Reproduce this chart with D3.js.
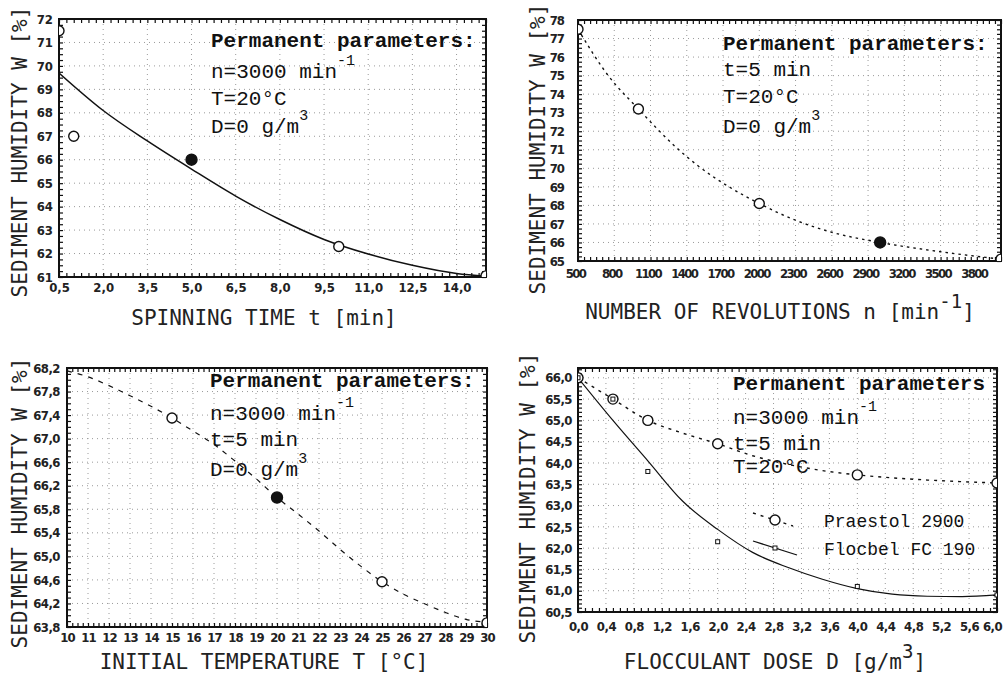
<!DOCTYPE html>
<html><head><meta charset="utf-8">
<script src="https://cdn.jsdelivr.net/npm/d3@7"></script>
<style>
html,body{margin:0;padding:0;background:#fff;}
svg{display:block;}
.tl text{font-family:'Liberation Sans Narrow','DejaVu Sans Condensed','DejaVu Sans',sans-serif;font-weight:bold;font-size:13px;fill:#222;}
.title{font-family:'DejaVu Sans Mono',monospace;font-size:21px;fill:#222;}
.perm{font-family:'Liberation Mono','Courier New',monospace;font-size:21px;fill:#111;}
.permb{font-weight:bold;}
.leg{font-family:'Liberation Mono','Courier New',monospace;font-size:18px;fill:#111;}
</style></head><body>
<svg id="c" width="1003" height="676"></svg>
<script>
// ---------- DATA ----------
// Panel 1: spinning time
const spinXTicks = [0.5,2,3.5,5,6.5,8,9.5,11,12.5,14];
const spinYTicks = [61,62,63,64,65,66,67,68,69,70,71,72];
const spinOpenT = [0.5,1,10,15];
const spinOpenW = [71.5,67.0,62.3,61.05];
const spinRefT = [5];
const spinRefW = [66.0];
const spinCurveT = [0.5,2,3.5,5,6.5,8,9.5,11,12.5,14,15];
const spinCurveW = [69.7,68.1,66.8,65.6,64.45,63.45,62.6,61.98,61.5,61.15,61.03];

// Panel 2: number of revolutions
const revXTicks = [500,800,1100,1400,1700,2000,2300,2600,2900,3200,3500,3800];
const revYTicks = [65,66,67,68,69,70,71,72,73,74,75,76,77,78];
const revOpenN = [500,1000,2000,4000];
const revOpenW = [77.5,73.2,68.1,65.1];
const revRefN = [3000];
const revRefW = [66.0];
const revCurveN = [500,750,1000,1300,1500,1750,2000,2300,2600,3000,3500,4000];
const revCurveW = [77.5,75.0,73.2,71.2,70.1,69.0,68.1,67.2,66.55,66.0,65.5,65.1];

// Panel 3: initial temperature
const tempXTicks = [10,11,12,13,14,15,16,17,18,19,20,21,22,23,24,25,26,27,28,29,30];
const tempYTicks = [63.8,64.2,64.6,65.0,65.4,65.8,66.2,66.6,67.0,67.4,67.8,68.2];
const tempOpenT = [15,25,30];
const tempOpenW = [67.35,64.57,63.87];
const tempRefT = [20];
const tempRefW = [66.0];
const tempCurveT = [10,11,12,13,14,15,16,17,18,19,20,21,22,23,24,25,26,27,28,29,30];
const tempCurveW = [68.15,68.05,67.9,67.73,67.55,67.35,67.13,66.9,66.62,66.32,66.0,65.72,65.43,65.12,64.83,64.57,64.36,64.2,64.05,63.93,63.88];

// Panel 4: flocculant dose
const doseXTicks = [0,0.4,0.8,1.2,1.6,2.0,2.4,2.8,3.2,3.6,4.0,4.4,4.8,5.2,5.6,6.0];
const doseYTicks = [60.5,61.0,61.5,62.0,62.5,63.0,63.5,64.0,64.5,65.0,65.5,66.0];
const praestolD = [0,0.5,1,2,4,6];
const praestolW = [66.0,65.5,65.0,64.45,63.72,63.53];
const praestolCurveD = [0,0.5,1,1.5,2,2.5,3,3.5,4,4.5,5,5.5,6];
const praestolCurveW = [66.0,65.5,65.0,64.7,64.45,64.17,63.97,63.82,63.72,63.65,63.6,63.56,63.53];
const flocbelD = [0,0.5,1,2,4,6];
const flocbelW = [66.0,65.5,63.8,62.15,61.1,60.9];
const flocbelCurveD = [0,0.5,1,1.5,2,2.5,3,3.5,4,4.5,5,5.5,6];
const flocbelCurveW = [66.0,65.0,64.05,63.1,62.44,61.9,61.55,61.27,61.05,60.92,60.87,60.86,60.9];
const seriesNames = ["Praestol 2900","Flocbel FC 190"];

// ---------- DRAW ----------
const svg = d3.select("#c");
const zip = (a,b)=>a.map((v,i)=>[v,b[i]]);
const comma1 = d => d3.format(".1f")(d).replace(".", ",");
const intf = d3.format("d");
let clipId = 0;

function panel(cfg){
  const x = d3.scaleLinear().domain(cfg.xDomain).range([cfg.left,cfg.right]);
  const y = d3.scaleLinear().domain(cfg.yDomain).range([cfg.bottom,cfg.top]);
  const g = svg.append("g");
  const id = "clip"+(clipId++);
  g.append("clipPath").attr("id",id).append("rect")
    .attr("x",cfg.left).attr("y",cfg.top).attr("width",cfg.right-cfg.left).attr("height",cfg.bottom-cfg.top);
  // grid
  g.append("g").selectAll("line").data(cfg.xTicks).join("line")
    .attr("x1",d=>x(d)).attr("x2",d=>x(d)).attr("y1",cfg.top).attr("y2",cfg.bottom)
    .attr("stroke","#9a9a9a").attr("stroke-width",1).attr("stroke-dasharray","1,4");
  g.append("g").selectAll("line").data(cfg.yTicks).join("line")
    .attr("y1",d=>y(d)).attr("y2",d=>y(d)).attr("x1",cfg.left).attr("x2",cfg.right)
    .attr("stroke","#9a9a9a").attr("stroke-width",1).attr("stroke-dasharray","1,4");
  // minor ticks
  const xm = d3.range(cfg.xDomain[0], cfg.xDomain[1]+1e-9, cfg.xMinor);
  const ym = d3.range(cfg.yDomain[0], cfg.yDomain[1]+1e-9, cfg.yMinor);
  const mk = (axis, tr) => { const a = g.append("g").attr("transform",tr).call(axis);
    a.select(".domain").remove(); a.selectAll("text").remove(); a.selectAll("line").attr("stroke","#111").attr("stroke-width",1.2); };
  mk(d3.axisBottom(x).tickValues(xm).tickSize(-4), `translate(0,${cfg.bottom})`);
  mk(d3.axisTop(x).tickValues(xm).tickSize(-4), `translate(0,${cfg.top})`);
  mk(d3.axisLeft(y).tickValues(ym).tickSize(-4), `translate(${cfg.left},0)`);
  mk(d3.axisRight(y).tickValues(ym).tickSize(-4), `translate(${cfg.right},0)`);
  // frame
  g.append("rect").attr("x",cfg.left).attr("y",cfg.top).attr("width",cfg.right-cfg.left).attr("height",cfg.bottom-cfg.top)
    .attr("fill","none").attr("stroke","#111").attr("stroke-width",2);
  // tick labels
  const xa = g.append("g").attr("class","tl").attr("transform",`translate(0,${cfg.bottom})`)
    .call(d3.axisBottom(x).tickValues(cfg.xTicks).tickSize(0).tickPadding(cfg.xPad).tickFormat(cfg.xFmt));
  xa.select(".domain").remove();
  if(cfg.xLS) xa.selectAll("text").style("letter-spacing",cfg.xLS).attr("dx",cfg.xDx||0);
  if(cfg.xLastDx) xa.selectAll("text").filter((d,i,n)=>i===n.length-1).attr("dx",cfg.xLastDx);
  const ya = g.append("g").attr("class","tl").attr("transform",`translate(${cfg.left},0)`)
    .call(d3.axisLeft(y).tickValues(cfg.yTicks).tickSize(0).tickPadding(cfg.yPad).tickFormat(cfg.yFmt));
  ya.select(".domain").remove();
  if(cfg.yLS) ya.selectAll("text").style("letter-spacing",cfg.yLS);
  // titles
  g.append("text").attr("class","title").attr("text-anchor","middle").attr("dominant-baseline","central")
    .attr("transform",`translate(${cfg.yTitlePos[0]},${cfg.yTitlePos[1]}) rotate(-90)`).text("SEDIMENT HUMIDITY W [%]");
  const xt = g.append("text").attr("class","title").attr("text-anchor","middle")
    .attr("x",cfg.xTitlePos[0]).attr("y",cfg.xTitlePos[1]);
  cfg.xTitle.forEach(p=>{ const t = xt.append("tspan").text(p.t);
    if(p.sup){ t.attr("dy",-11).style("font-size","19px"); } else if(p.back){ t.attr("dy",11); } });
  // parameters text
  const pt = g.append("g");
  cfg.params.forEach((p,i)=>{
    const t = pt.append("text").attr("class","perm"+(i===0?" permb":"")).attr("x",cfg.paramX).attr("y",cfg.paramY[i]);
    t.append("tspan").text(p.t);
    if(p.sup){ t.append("tspan").attr("dy",-13).style("font-size","15px").text(p.sup); }
  });
  const plot = g.append("g").attr("clip-path",`url(#${id})`);
  return {x,y,g,plot};
}

function curve(p, xs, ys, dash, w){
  p.plot.append("path").datum(zip(xs,ys))
    .attr("d", d3.line().x(d=>p.x(d[0])).y(d=>p.y(d[1])).curve(d3.curveMonotoneX))
    .attr("fill","none").attr("stroke","#111").attr("stroke-width",w||1.4).attr("stroke-dasharray",dash||null);
}
function circles(p, xs, ys, filled, r){
  p.plot.append("g").selectAll("circle").data(zip(xs,ys)).join("circle")
    .attr("cx",d=>p.x(d[0])).attr("cy",d=>p.y(d[1])).attr("r",r||5)
    .attr("fill",filled?"#111":"#fff").attr("stroke","#111").attr("stroke-width",1.4);
}
function squares(p, xs, ys){
  p.plot.append("g").selectAll("rect").data(zip(xs,ys)).join("rect")
    .attr("x",d=>p.x(d[0])-2).attr("y",d=>p.y(d[1])-2).attr("width",4).attr("height",4)
    .attr("fill","#fff").attr("stroke","#111").attr("stroke-width",1);
}

// Panel 1
const p1 = panel({left:59,right:486,top:19,bottom:277,xDomain:[0.5,15],yDomain:[61,72],
  xTicks:spinXTicks,yTicks:spinYTicks,xMinor:0.25,yMinor:0.25,xFmt:comma1,yFmt:intf,xPad:6,yPad:6,
  yTitlePos:[20,152],xTitlePos:[264,325],xTitle:[{t:"SPINNING TIME t [min]"}],
  paramX:211,paramY:[47,78,105,133],
  params:[{t:"Permanent parameters:"},{t:"n=3000 min",sup:"-1"},{t:"T=20°C"},{t:"D=0 g/m",sup:"3"}]});
curve(p1, spinCurveT, spinCurveW, null, 1.5);
circles(p1, spinOpenT, spinOpenW, false, 5);
circles(p1, spinRefT, spinRefW, true, 5.5);

// Panel 2
const p2 = panel({left:578,right:1001,top:20,bottom:261,xDomain:[500,4000],yDomain:[65,78],
  xTicks:revXTicks,yTicks:revYTicks,xMinor:50,yMinor:0.25,xFmt:intf,yFmt:intf,xPad:8,yPad:14,
  xLS:"-1.6px",xDx:-3,yLS:"-1px",
  yTitlePos:[538,149],xTitlePos:[780,319],
  xTitle:[{t:"NUMBER OF REVOLUTIONS n [min"},{t:"-1",sup:true},{t:"]",back:true}],
  paramX:723,paramY:[50,76,103,133],
  params:[{t:"Permanent parameters:"},{t:"t=5 min"},{t:"T=20°C"},{t:"D=0 g/m",sup:"3"}]});
curve(p2, revCurveN, revCurveW, "2.5,4", 1.4);
circles(p2, revOpenN, revOpenW, false, 5);
circles(p2, revRefN, revRefW, true, 5.5);

// Panel 3
const p3 = panel({left:67,right:487,top:368,bottom:627,xDomain:[10,30],yDomain:[63.8,68.2],
  xTicks:tempXTicks,yTicks:tempYTicks,xMinor:0.25,yMinor:0.1,xFmt:intf,yFmt:comma1,xPad:6,yPad:7,
  xLS:"-1px",yLS:"-0.5px",
  yTitlePos:[20,503],xTitlePos:[264,669],xTitle:[{t:"INITIAL TEMPERATURE T [°C]"}],
  paramX:210,paramY:[387,420,446,476],
  params:[{t:"Permanent parameters:"},{t:"n=3000 min",sup:"-1"},{t:"t=5 min"},{t:"D=0 g/m",sup:"3"}]});
curve(p3, tempCurveT, tempCurveW, "5,6", 1.2);
circles(p3, tempOpenT, tempOpenW, false, 5);
circles(p3, tempRefT, tempRefW, true, 5.5);

// Panel 4
const p4 = panel({left:578,right:997,top:368,bottom:612,xDomain:[0,6],yDomain:[60.5,66.23],
  xTicks:doseXTicks,yTicks:doseYTicks,xMinor:0.1,yMinor:0.1,xFmt:comma1,yFmt:comma1,xPad:10,yPad:6,
  xLS:"-0.5px",yLS:"-0.5px",xLastDx:-5,
  yTitlePos:[528,498],xTitlePos:[775,669],
  xTitle:[{t:"FLOCCULANT DOSE D [g/m"},{t:"3",sup:true},{t:"]",back:true}],
  paramX:733,paramY:[390,424,450,473],
  params:[{t:"Permanent parameters"},{t:"n=3000 min",sup:"-1"},{t:"t=5 min"},{t:"T=20°C"}]});
curve(p4, praestolCurveD, praestolCurveW, "3,5", 1.4);
curve(p4, flocbelCurveD, flocbelCurveW, null, 1.2);
circles(p4, praestolD, praestolW, false, 5);
squares(p4, flocbelD, flocbelW);

// legend (panel 4)
const lg = p4.g.append("g");
lg.append("line").attr("x1",753).attr("y1",513).attr("x2",793).attr("y2",526)
  .attr("stroke","#111").attr("stroke-width",1.4).attr("stroke-dasharray","3,5");
lg.append("circle").attr("cx",775).attr("cy",520).attr("r",5).attr("fill","#fff").attr("stroke","#111").attr("stroke-width",1.4);
lg.append("line").attr("x1",753).attr("y1",541).attr("x2",797).attr("y2",555)
  .attr("stroke","#111").attr("stroke-width",1.2);
lg.append("rect").attr("x",773).attr("y",546).attr("width",4).attr("height",4).attr("fill","#fff").attr("stroke","#111");
lg.selectAll("text.lt").data(seriesNames).join("text").attr("class","leg")
  .attr("x",824).attr("y",(d,i)=>[527,555][i]).text(d=>d);
</script></body></html>
